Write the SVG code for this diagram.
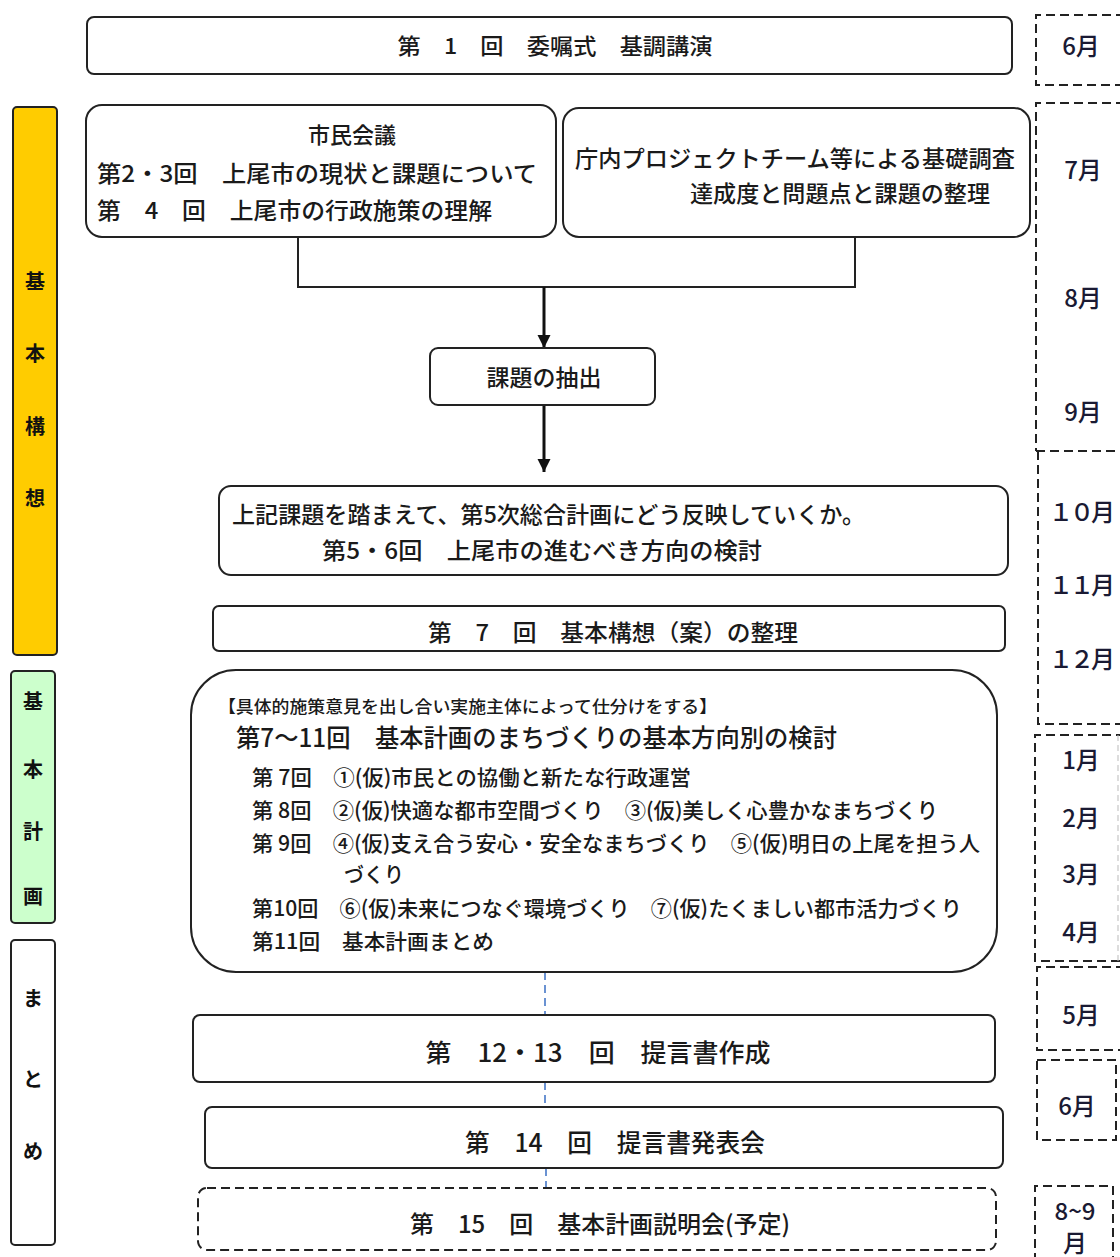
<svg xmlns="http://www.w3.org/2000/svg" width="1120" height="1257" viewBox="0 0 1120 1257">
<defs>
<style>
.t{font-family:"Noto Sans CJK JP","Noto Sans",sans-serif;fill:#1a1a1a;font-weight:500;dominant-baseline:central}
.box{fill:#fff;stroke:#222;stroke-width:2}
.dbox{fill:#fff;stroke:#222;stroke-width:2;stroke-dasharray:9 5}
.mon{fill:none;stroke:#222;stroke-width:2;stroke-dasharray:9 5}
.m{font-family:"Noto Sans CJK JP","Noto Sans",sans-serif;fill:#1a1a33;font-size:24px;font-weight:500;dominant-baseline:central;text-anchor:middle}
.side{font-family:"Noto Sans CJK JP","Noto Sans",sans-serif;fill:#111;font-size:20px;font-weight:bold;dominant-baseline:central;text-anchor:middle}
.c{text-anchor:middle}
</style>
<marker id="ah" viewBox="0 0 10 10" refX="10" refY="5" markerWidth="4.5" markerHeight="4.5" orient="auto" markerUnits="strokeWidth">
<path d="M0,0 L10,5 L0,10 Z" fill="#111"/>
</marker>
</defs>

<g id="side-kihonkoso">
<rect x="13" y="107" width="44" height="548" rx="4" fill="#FFCC00" stroke="#222" stroke-width="2"/>
<text class="side" x="35" y="280">基</text>
<text class="side" x="35" y="352">本</text>
<text class="side" x="35" y="425">構</text>
<text class="side" x="35" y="497">想</text>
</g>
<g id="side-kihonkeikaku">
<rect x="11" y="671" width="44" height="252" rx="4" fill="#CCFFCC" stroke="#222" stroke-width="2"/>
<text class="side" x="33" y="700">基</text>
<text class="side" x="33" y="768">本</text>
<text class="side" x="33" y="830">計</text>
<text class="side" x="33" y="895">画</text>
</g>
<g id="side-matome">
<rect x="11" y="940" width="44" height="305" rx="4" fill="#fff" stroke="#222" stroke-width="2"/>
<text class="side" x="33" y="997" font-weight="normal">ま</text>
<text class="side" x="33" y="1078" font-weight="normal">と</text>
<text class="side" x="33" y="1150" font-weight="normal">め</text>
</g>

<g id="connectors">
<polyline points="298,237 298,287 855,287 855,237" fill="none" stroke="#222" stroke-width="2"/>
<line x1="544" y1="287" x2="544" y2="348" stroke="#111" stroke-width="3" marker-end="url(#ah)"/>
<line x1="544" y1="405" x2="544" y2="472" stroke="#111" stroke-width="3" marker-end="url(#ah)"/>
<g stroke="#3a6fc4" stroke-width="1.5" stroke-dasharray="8 5">
<line x1="545" y1="972" x2="545" y2="1015"/>
<line x1="545" y1="1082" x2="545" y2="1107"/>
<line x1="546" y1="1168" x2="546" y2="1188"/>
</g>
</g>

<g id="n1">
<rect class="box" x="87" y="17" width="925" height="57" rx="7"/>
<text class="t c" x="555" y="44" font-size="22" textLength="315" lengthAdjust="spacingAndGlyphs">第　1　回　委嘱式　基調講演</text>
</g>

<g id="n-shimin">
<rect class="box" x="86" y="105" width="470" height="132" rx="16"/>
<text class="t c" x="352" y="133" font-size="22">市民会議</text>
<text class="t" x="97" y="172" font-size="23" textLength="440" lengthAdjust="spacingAndGlyphs">第2・3回　上尾市の現状と課題について</text>
<text class="t" x="97" y="209" font-size="23" textLength="395" lengthAdjust="spacingAndGlyphs">第　4　回　上尾市の行政施策の理解</text>
</g>

<g id="n-chonai">
<rect class="box" x="563" y="108" width="467" height="129" rx="16"/>
<text class="t" x="575" y="157" font-size="23" textLength="440" lengthAdjust="spacingAndGlyphs">庁内プロジェクトチーム等による基礎調査</text>
<text class="t" x="690" y="192" font-size="23" textLength="300" lengthAdjust="spacingAndGlyphs">達成度と問題点と課題の整理</text>
</g>

<g id="n-kadai">
<rect class="box" x="430" y="348" width="225" height="57" rx="8"/>
<text class="t c" x="544" y="376" font-size="23">課題の抽出</text>
</g>

<g id="n-5-6">
<rect class="box" x="219" y="486" width="789" height="89" rx="12"/>
<text class="t" x="232" y="513" font-size="23" textLength="633" lengthAdjust="spacingAndGlyphs">上記課題を踏まえて、第5次総合計画にどう反映していくか。</text>
<text class="t" x="322" y="549" font-size="23" textLength="440" lengthAdjust="spacingAndGlyphs">第5・6回　上尾市の進むべき方向の検討</text>
</g>

<g id="n7">
<rect class="box" x="213" y="606" width="792" height="45" rx="6"/>
<text class="t c" x="613" y="631" font-size="23" textLength="370" lengthAdjust="spacingAndGlyphs">第　7　回　基本構想（案）の整理</text>
</g>

<g id="n7-11">
<rect class="box" x="191" y="670" width="806" height="302" rx="45"/>
<text class="t" x="218" y="705" font-size="17" textLength="499" lengthAdjust="spacingAndGlyphs">【具体的施策意見を出し合い実施主体によって仕分けをする】</text>
<text class="t" x="236" y="736" font-size="25" textLength="601" lengthAdjust="spacingAndGlyphs">第7～11回　基本計画のまちづくりの基本方向別の検討</text>
<text class="t" x="252" y="776" font-size="21" textLength="439" lengthAdjust="spacingAndGlyphs">第 7回　①(仮)市民との協働と新たな行政運営</text>
<text class="t" x="252" y="809" font-size="21" textLength="686" lengthAdjust="spacingAndGlyphs">第 8回　②(仮)快適な都市空間づくり　③(仮)美しく心豊かなまちづくり</text>
<text class="t" x="252" y="842" font-size="21" textLength="728" lengthAdjust="spacingAndGlyphs">第 9回　④(仮)支え合う安心・安全なまちづくり　⑤(仮)明日の上尾を担う人</text>
<text class="t" x="344" y="873" font-size="21" textLength="60" lengthAdjust="spacingAndGlyphs">づくり</text>
<text class="t" x="252" y="907" font-size="21" textLength="710" lengthAdjust="spacingAndGlyphs">第10回　⑥(仮)未来につなぐ環境づくり　⑦(仮)たくましい都市活力づくり</text>
<text class="t" x="252" y="940" font-size="21" textLength="242" lengthAdjust="spacingAndGlyphs">第11回　基本計画まとめ</text>
</g>

<g id="n12-13">
<rect class="box" x="193" y="1015" width="802" height="67" rx="7"/>
<text class="t c" x="598" y="1051" font-size="25" textLength="345" lengthAdjust="spacingAndGlyphs">第　12・13　回　提言書作成</text>
</g>

<g id="n14">
<rect class="box" x="205" y="1107" width="798" height="61" rx="7"/>
<text class="t c" x="615" y="1141" font-size="25" textLength="300" lengthAdjust="spacingAndGlyphs">第　14　回　提言書発表会</text>
</g>

<g id="n15">
<rect class="dbox" x="198" y="1188" width="798" height="62" rx="9"/>
<text class="t c" x="600" y="1222" font-size="24" textLength="380" lengthAdjust="spacingAndGlyphs">第　15　回　基本計画説明会(予定)</text>
</g>

<g id="months">
<path class="mon" d="M1125,15 H1036 V85 H1125"/>
<text class="m" x="1081" y="44">6月</text>
<path class="mon" d="M1125,103 H1036 V451"/>
<text class="m" x="1083" y="168">7月</text>
<text class="m" x="1083" y="296">8月</text>
<text class="m" x="1083" y="410">9月</text>
<path class="mon" d="M1036,451 H1125" stroke-width="3.5"/>
<path class="mon" d="M1038,451 V724 H1125"/>
<text class="m" x="1082" y="510" textLength="66" lengthAdjust="spacing">１０月</text>
<text class="m" x="1082" y="583" textLength="66" lengthAdjust="spacing">１１月</text>
<text class="m" x="1082" y="657" textLength="66" lengthAdjust="spacing">１２月</text>
<path class="mon" d="M1125,735 H1035 V961 H1125"/>
<line x1="1118" y1="735" x2="1118" y2="961" stroke="#bbb" stroke-width="1" stroke-dasharray="6 4"/>
<text class="m" x="1081" y="758">1月</text>
<text class="m" x="1081" y="816">2月</text>
<text class="m" x="1081" y="872">3月</text>
<text class="m" x="1081" y="930">4月</text>
<path class="mon" d="M1125,967 H1037 V1050 H1125"/>
<text class="m" x="1081" y="1013">5月</text>
<rect class="mon" x="1037" y="1060" width="79" height="80"/>
<text class="m" x="1077" y="1104">6月</text>
<path class="mon" d="M1035,1262 V1186 H1113 V1262"/>
<text class="m" x="1075" y="1209" font-size="14">8~9</text>
<text class="m" x="1075" y="1241" font-size="15">月</text>
</g>
</svg>
